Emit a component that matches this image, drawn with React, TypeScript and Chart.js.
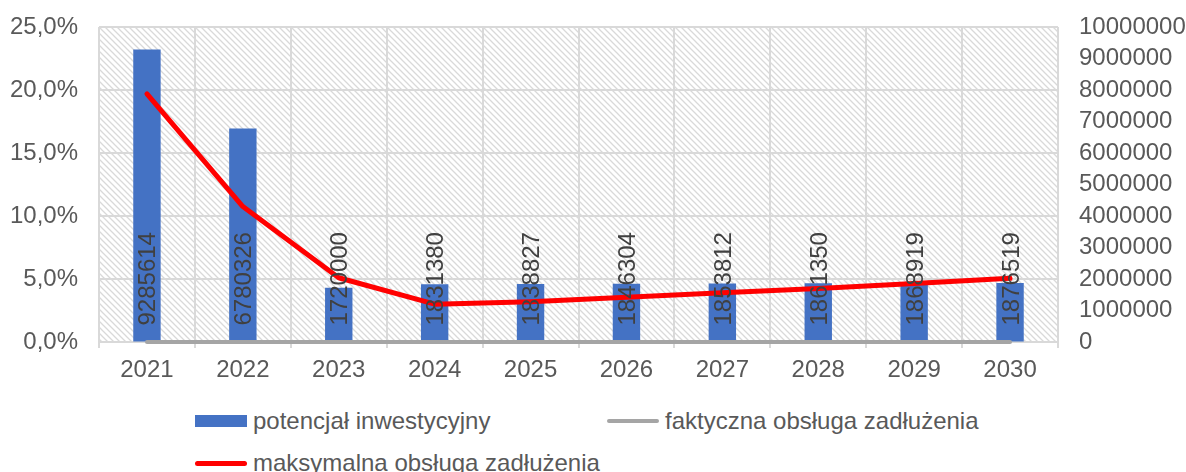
import React, { useEffect, useRef } from 'react';
import { Chart, registerables } from 'chart.js';

Chart.register(...registerables);

const categories = ['2021', '2022', '2023', '2024', '2025', '2026', '2027', '2028', '2029', '2030'];
const potencjalInwestycyjny = [9285614, 6780326, 1720000, 1831380, 1838827, 1846304, 1853812, 1861350, 1868919, 1876519];
const faktycznaObsluga = [0, 0, 0, 0, 0, 0, 0, 0, 0, 0];
const maksymalnaObsluga = [19.7, 10.75, 5.1, 3.0, 3.2, 3.55, 3.9, 4.25, 4.65, 5.05];

const seriesNames = ['potencjał inwestycyjny', 'faktyczna obsługa zadłużenia', 'maksymalna obsługa zadłużenia'];
const seriesColors = ['#4472C4', '#A5A5A5', '#FF0000'];

const FONT = '"Liberation Sans", Arial, sans-serif';
const FONT_SIZE = 24;
const TEXT = '#595959';
const GRID = '#d9d9d9';

const hatchPlugin = {
  id: 'hatch',
  beforeDraw(chart: any) {
    const { ctx, chartArea } = chart;
    const p = 6;
    const c = document.createElement('canvas');
    c.width = p;
    c.height = p;
    const g = c.getContext('2d')!;
    g.fillStyle = '#ffffff';
    g.fillRect(0, 0, p, p);
    g.strokeStyle = '#d9d9d9';
    g.lineWidth = 1.3;
    g.beginPath();
    g.moveTo(-1, -1); g.lineTo(p + 1, p + 1);
    g.moveTo(-1, p - 1); g.lineTo(1, p + 1);
    g.moveTo(p - 1, -1); g.lineTo(p + 1, 1);
    g.stroke();
    const pattern = ctx.createPattern(c, 'repeat');
    ctx.save();
    ctx.fillStyle = pattern;
    ctx.fillRect(chartArea.left, chartArea.top, chartArea.right - chartArea.left, chartArea.bottom - chartArea.top);
    ctx.restore();
  },
};

const barLabelPlugin = {
  id: 'barLabels',
  afterDatasetsDraw(chart: any) {
    const meta = chart.getDatasetMeta(0);
    const ctx = chart.ctx;
    ctx.save();
    ctx.font = `${FONT_SIZE}px ${FONT}`;
    ctx.fillStyle = '#404040';
    ctx.textAlign = 'left';
    ctx.textBaseline = 'alphabetic';
    meta.data.forEach((bar: any, i: number) => {
      const { x, base } = bar.getProps(['x', 'base'], true);
      ctx.save();
      ctx.translate(x, base - 16);
      ctx.rotate(-Math.PI / 2);
      ctx.fillText(String(potencjalInwestycyjny[i]), 0, 8.5);
      ctx.restore();
    });
    ctx.restore();
  },
};

export default function App() {
  const ref = useRef<HTMLCanvasElement>(null);

  useEffect(() => {
    if (!ref.current) return;
    const font = { family: FONT, size: FONT_SIZE };
    const chart = new Chart(ref.current, {
      type: 'bar',
      data: {
        labels: categories,
        datasets: [
          {
            type: 'bar',
            label: seriesNames[0],
            data: potencjalInwestycyjny,
            backgroundColor: seriesColors[0],
            yAxisID: 'y1',
            categoryPercentage: 1,
            barPercentage: 0.2857,
            order: 3,
          },
          {
            type: 'line',
            label: seriesNames[1],
            data: faktycznaObsluga,
            borderColor: seriesColors[1],
            borderWidth: 4,
            pointRadius: 0,
            borderCapStyle: 'round',
            clip: false,
            yAxisID: 'y',
            order: 2,
          },
          {
            type: 'line',
            label: seriesNames[2],
            data: maksymalnaObsluga,
            borderColor: seriesColors[2],
            borderWidth: 5,
            pointRadius: 0,
            borderCapStyle: 'round',
            borderJoinStyle: 'round',
            tension: 0,
            clip: false,
            yAxisID: 'y',
            order: 1,
          },
        ] as any,
      },
      options: {
        responsive: false,
        animation: false,
        devicePixelRatio: 1,
        layout: { padding: { top: 27, left: 0, right: 0, bottom: 0 } },
        plugins: { legend: { display: false }, tooltip: { enabled: false } },
        scales: {
          x: {
            grid: { offset: true, color: GRID, lineWidth: 2, tickLength: 6, drawTicks: true },
            border: { display: false },
            ticks: { color: TEXT, font, padding: 8, maxRotation: 0, autoSkip: false },
            afterFit: (s: any) => { s.height = 58; },
          },
          y: {
            position: 'left',
            min: 0,
            max: 25,
            ticks: {
              stepSize: 5,
              color: TEXT,
              font,
              padding: 21,
              autoSkip: false,
              callback: (v: any) => Number(v).toFixed(1).replace('.', ',') + '%',
            },
            grid: { color: GRID, lineWidth: 2, drawTicks: false },
            border: { display: false },
            afterFit: (s: any) => { s.width = 99; s.paddingTop = 0; s.paddingBottom = 0; },
          },
          y1: {
            position: 'right',
            min: 0,
            max: 10000000,
            ticks: {
              stepSize: 1000000,
              color: TEXT,
              font,
              padding: 21,
              autoSkip: false,
              callback: (v: any) => String(v),
            },
            grid: { drawOnChartArea: false, drawTicks: false },
            border: { display: false },
            afterFit: (s: any) => { s.width = 128; s.paddingTop = 0; s.paddingBottom = 0; },
          },
        },
      } as any,
      plugins: [hatchPlugin, barLabelPlugin],
    });
    return () => chart.destroy();
  }, []);

  const textStyle: React.CSSProperties = { fontSize: FONT_SIZE, color: TEXT, lineHeight: '26px', whiteSpace: 'nowrap', marginLeft: 6 };
  const item = (left: number, top: number, marker: React.ReactNode, label: string) => (
    <div style={{ position: 'absolute', left, top, height: 30, display: 'flex', alignItems: 'center' }}>
      {marker}
      <span style={textStyle}>{label}</span>
    </div>
  );

  return (
    <div style={{ position: 'absolute', left: 0, top: 0, width: 1186, height: 472, overflow: 'hidden', background: '#fff', fontFamily: FONT }}>
      <canvas ref={ref} width={1186} height={400} style={{ display: 'block', width: 1186, height: 400 }} />
      {item(195, 406, <div style={{ width: 52, height: 12, background: seriesColors[0] }} />, seriesNames[0])}
      {item(607, 406, <div style={{ width: 52, height: 4, borderRadius: 2, background: seriesColors[1] }} />, seriesNames[1])}
      {item(195, 448, <div style={{ width: 52, height: 5, borderRadius: 3, background: seriesColors[2] }} />, seriesNames[2])}
    </div>
  );
}
